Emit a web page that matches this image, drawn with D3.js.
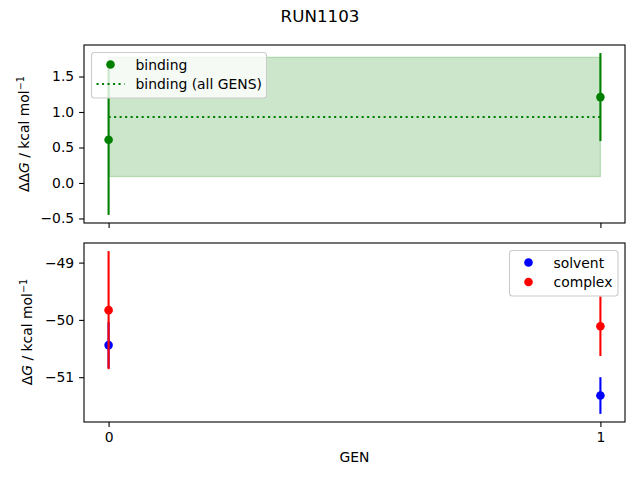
<!DOCTYPE html>
<html>
<head>
<meta charset="utf-8">
<script src="https://cdn.jsdelivr.net/npm/d3@7"></script>
<style>
  body { margin: 0; background: #fff; }
  svg text { font-family: "DejaVu Sans", sans-serif; fill: #000; }
</style>
</head>
<body>
<svg id="chart" width="640" height="480"></svg>
<script>
const title = 'RUN1103';
const gens = [0, 1];
const bindingValues = [0.61, 1.21];
const bindingErrors = [1.06, 0.62];
const bindingMean = 0.93;
const bindingMeanError = 0.84;
const solventValues = [-50.44, -51.32];
const solventErrors = [0.4, 0.32];
const complexValues = [-49.83, -50.11];
const complexErrors = [1.03, 0.52];
const topTicks = [-0.5, 0, 0.5, 1.0, 1.5];
const bottomTicks = [-51, -50, -49];

const svg = d3.select('#chart');
const left = 84, right = 625;
const topBox = { y0: 45, y1: 223 };
const botBox = { y0: 243, y1: 422 };

svg.append('text')
    .attr('x', 320)
    .attr('y', 22)
    .attr('text-anchor', 'middle')
    .style('font-size', '16.7px')
    .text(title);

const x = d3.scaleLinear().domain([-0.05, 1.05]).range([left, right]);

function lims(vals) {
    const lo = d3.min(vals), hi = d3.max(vals), m = (hi - lo) * 0.05;
    return [lo - m, hi + m];
}

const yTop = d3.scaleLinear()
    .domain(lims([
        ...bindingValues.map((v, i) => v - bindingErrors[i]),
        ...bindingValues.map((v, i) => v + bindingErrors[i]),
        bindingMean - bindingMeanError, bindingMean + bindingMeanError
    ]))
    .range([topBox.y1, topBox.y0]);

const yBot = d3.scaleLinear()
    .domain(lims([
        ...solventValues.map((v, i) => v - solventErrors[i]),
        ...solventValues.map((v, i) => v + solventErrors[i]),
        ...complexValues.map((v, i) => v - complexErrors[i]),
        ...complexValues.map((v, i) => v + complexErrors[i])
    ]))
    .range([botBox.y1, botBox.y0]);

function styleAxis(g) {
    g.selectAll('.domain').remove();
    g.selectAll('.tick line').attr('stroke', '#000').attr('stroke-width', 1.1);
    g.selectAll('.tick text').style('font-size', '13.9px').attr('fill', '#000');
}

function frame(box) {
    svg.append('rect')
        .attr('x', left).attr('y', box.y0)
        .attr('width', right - left).attr('height', box.y1 - box.y0)
        .attr('fill', 'none').attr('stroke', '#000').attr('stroke-width', 1.1);
}

function errorbars(g, vals, errs, y, color) {
    g.selectAll(null)
        .data(gens)
        .join('line')
        .attr('x1', d => x(d)).attr('x2', d => x(d))
        .attr('y1', (d, i) => y(vals[i] - errs[i]))
        .attr('y2', (d, i) => y(vals[i] + errs[i]))
        .attr('stroke', color).attr('stroke-width', 2.1);
    g.selectAll(null)
        .data(gens)
        .join('circle')
        .attr('cx', d => x(d))
        .attr('cy', (d, i) => y(vals[i]))
        .attr('r', 4.3)
        .attr('fill', color);
}

// ---- top panel
const gTop = svg.append('g');
gTop.append('rect')
    .attr('x', x(gens[0])).attr('width', x(gens[1]) - x(gens[0]))
    .attr('y', yTop(bindingMean + bindingMeanError))
    .attr('height', yTop(bindingMean - bindingMeanError) - yTop(bindingMean + bindingMeanError))
    .attr('fill', 'green').attr('fill-opacity', 0.2)
    .attr('stroke', 'green').attr('stroke-opacity', 0.2).attr('stroke-width', 1.4);
gTop.append('line')
    .attr('x1', x(gens[0])).attr('x2', x(gens[1]))
    .attr('y1', yTop(bindingMean)).attr('y2', yTop(bindingMean))
    .attr('stroke', 'green').attr('stroke-width', 2.1)
    .attr('stroke-dasharray', '2.1,3.4');
errorbars(gTop, bindingValues, bindingErrors, yTop, 'green');

svg.append('g')
    .attr('transform', `translate(${left},0)`)
    .call(d3.axisLeft(yTop).tickValues(topTicks).tickFormat(d3.format('.1f')).tickSize(4.9).tickPadding(4.9))
    .call(styleAxis);
svg.append('g')
    .attr('transform', `translate(0,${topBox.y1})`)
    .call(d3.axisBottom(x).tickValues(gens).tickFormat('').tickSize(4.9))
    .call(styleAxis);
frame(topBox);

// ---- bottom panel
const gBot = svg.append('g');
errorbars(gBot, solventValues, solventErrors, yBot, 'blue');
errorbars(gBot, complexValues, complexErrors, yBot, 'red');

svg.append('g')
    .attr('transform', `translate(${left},0)`)
    .call(d3.axisLeft(yBot).tickValues(bottomTicks).tickFormat(d3.format('d')).tickSize(4.9).tickPadding(4.9))
    .call(styleAxis);
svg.append('g')
    .attr('transform', `translate(0,${botBox.y1})`)
    .call(d3.axisBottom(x).tickValues(gens).tickFormat(d3.format('d')).tickSize(4.9).tickPadding(4.9))
    .call(styleAxis);
frame(botBox);

// ---- axis labels
function ylabel(cx, cy, prefix) {
    const t = svg.append('text')
        .attr('transform', `translate(${cx},${cy}) rotate(-90)`)
        .attr('text-anchor', 'middle')
        .style('font-size', '13.9px');
    t.append('tspan').text(prefix);
    t.append('tspan').style('font-style', 'italic').text('G');
    t.append('tspan').text(' / kcal mol');
    t.append('tspan').attr('dy', -5).style('font-size', '9.7px').text('−1');
}
ylabel(29, 134, 'ΔΔ');
ylabel(32, 332, 'Δ');

svg.append('text')
    .attr('x', (left + right) / 2).attr('y', 462)
    .attr('text-anchor', 'middle')
    .style('font-size', '13.9px')
    .text('GEN');

// ---- legends
function legend(x0, y0, w, items) {
    const g = svg.append('g').attr('transform', `translate(${x0},${y0})`);
    g.append('rect')
        .attr('width', w).attr('height', 45.5).attr('rx', 3)
        .attr('fill', '#fff').attr('fill-opacity', 0.8)
        .attr('stroke', '#ccc').attr('stroke-width', 1.1);
    items.forEach((it, i) => {
        const cy = 12 + i * 19.5;
        if (it.type === 'dot') {
            g.append('circle').attr('cx', 19).attr('cy', cy).attr('r', 4.3).attr('fill', it.color);
        } else {
            g.append('line').attr('x1', 5).attr('x2', 33).attr('y1', cy).attr('y2', cy)
                .attr('stroke', it.color).attr('stroke-width', 2.1).attr('stroke-dasharray', '2.1,3.4');
        }
        g.append('text').attr('x', 44).attr('y', cy + 5)
            .style('font-size', '13.9px').text(it.label);
    });
}
legend(91.5, 52.5, 175, [
    { type: 'dot', color: 'green', label: 'binding' },
    { type: 'line', color: 'green', label: 'binding (all GENS)' }
]);
legend(509.5, 250.5, 108.5, [
    { type: 'dot', color: 'blue', label: 'solvent' },
    { type: 'dot', color: 'red', label: 'complex' }
]);
</script>
</body>
</html>
